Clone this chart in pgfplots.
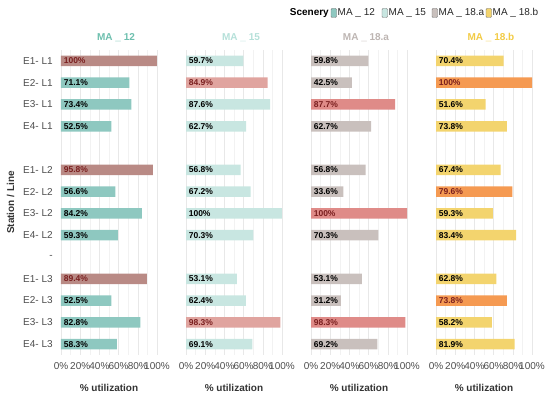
\documentclass[border=0pt]{standalone}
\usepackage{pgfplots}
\pgfplotsset{compat=1.18}
\usepackage{pgfplotstable}
\usepackage{fontspec}
\setmainfont{Liberation Sans}

\definecolor{nA}{HTML}{8EC8C0}
\definecolor{hA}{HTML}{B98A85}
\definecolor{nB}{HTML}{C8E6E1}
\definecolor{hB}{HTML}{E0A49F}
\definecolor{nC}{HTML}{C9C0BD}
\definecolor{hC}{HTML}{DF8B88}
\definecolor{nD}{HTML}{F3D46E}
\definecolor{hD}{HTML}{F59A52}
\definecolor{tA}{HTML}{6DBFAE}
\definecolor{tB}{HTML}{B5E0D9}
\definecolor{tC}{HTML}{BDB5B2}
\definecolor{tD}{HTML}{F2CB45}
\definecolor{hltext}{HTML}{7A1F1F}
\definecolor{axg}{HTML}{4D4D4D}

% rows: 0-3 L1, 4 blank, 5-8 L2, 9 "-", 10-13 L3
\pgfplotstableread{
row v
1 71.1
2 73.4
3 52.5
6 56.6
7 84.2
8 59.3
11 52.5
12 82.8
13 58.3
}\An
\pgfplotstableread{
row v
0 100
5 95.8
10 89.4
}\Ah
\pgfplotstableread{
row v
0 59.7
2 87.6
3 62.7
5 56.8
6 67.2
7 100
8 70.3
10 53.1
11 62.4
13 69.1
}\Bn
\pgfplotstableread{
row v
1 84.9
12 98.3
}\Bh
\pgfplotstableread{
row v
0 59.8
1 42.5
3 62.7
5 56.8
6 33.6
8 70.3
10 53.1
11 31.2
13 69.2
}\Cn
\pgfplotstableread{
row v
2 87.7
7 100
12 98.3
}\Ch
\pgfplotstableread{
row v
0 70.4
2 51.6
3 73.8
5 67.4
7 59.3
8 83.4
10 62.8
12 58.2
13 81.9
}\Dn
\pgfplotstableread{
row v
1 100
6 79.6
11 73.8
}\Dh

\pgfplotsset{
  panel/.style={
    scale only axis, width=105.6pt, height=305pt, anchor=south west,
    xmin=-5, xmax=105, ymin=-0.5, ymax=13.5, y dir=reverse,
    axis line style={draw=none}, major tick length=0pt, minor tick length=0pt,
    tick style={draw=none},
    xtick={0,20,40,60,80,100},
    xticklabels={0\%,20\%,40\%,60\%,80\%,100\%},
    minor xtick={10,30,50,70,90},
    xmajorgrids, xminorgrids,
    major grid style={color=black!9, line width=0.5pt},
    minor grid style={color=black!5, line width=0.4pt},
    tick label style={font=\fontsize{10}{12}\selectfont, text=axg},
    xticklabel style={yshift=-4pt},
    xlabel={\% utilization},
    xlabel style={font=\bfseries\fontsize{10}{12}\selectfont, text=black!80, yshift=-8pt},
    title style={font=\bfseries\fontsize{10}{12}\selectfont, yshift=-1pt, xshift=7pt},
    ytick=\empty,
  },
  bars/.style={xbar, bar shift=0pt, bar width=10.5pt, draw=none, fill=#1},
  labs/.style={draw=none, mark=none,
    nodes near coords={\pgfmathprintnumber[fixed,precision=1,assume math mode=true]{\pgfplotspointmeta}\%},
    point meta=\thisrow{v},
    nodes near coords style={anchor=west, font=\bfseries\fontsize{8.5}{10}\selectfont, text=#1, inner sep=2.6pt}},
}

\begin{document}
\begin{tikzpicture}
\useasboundingbox (0,0) rectangle (550pt,394pt);

\begin{axis}[panel, at={(56.2pt,39pt)}, title={MA \_ 12}, title style={text=tA},
  ytick={0,...,13},
  yticklabels={E1- L1,E2- L1,E3- L1,E4- L1,{},E1- L2,E2- L2,E3- L2,E4- L2,{-},E1- L3,E2- L3,E3- L3,E4- L3},
  ylabel={Station / Line}, ylabel style={font=\bfseries\fontsize{10}{12}\selectfont, text=black!80, yshift=2pt}]
\addplot[bars=nA] table[x=v, y=row] {\An};
\addplot[bars=hA] table[x=v, y=row] {\Ah};
\addplot[labs=black] table[x expr=0, y=row] {\An};
\addplot[labs=hltext] table[x expr=0, y=row] {\Ah};
\end{axis}

\begin{axis}[panel, at={(181.2pt,39pt)}, title={MA \_ 15}, title style={text=tB}]
\addplot[bars=nB] table[x=v, y=row] {\Bn};
\addplot[bars=hB] table[x=v, y=row] {\Bh};
\addplot[labs=black] table[x expr=0, y=row] {\Bn};
\addplot[labs=hltext] table[x expr=0, y=row] {\Bh};
\end{axis}

\begin{axis}[panel, at={(306.2pt,39pt)}, title={MA \_ 18.a}, title style={text=tC}]
\addplot[bars=nC] table[x=v, y=row] {\Cn};
\addplot[bars=hC] table[x=v, y=row] {\Ch};
\addplot[labs=black] table[x expr=0, y=row] {\Cn};
\addplot[labs=hltext] table[x expr=0, y=row] {\Ch};
\end{axis}

\begin{axis}[panel, at={(431.2pt,39pt)}, title={MA \_ 18.b}, title style={text=tD}]
\addplot[bars=nD] table[x=v, y=row] {\Dn};
\addplot[bars=hD] table[x=v, y=row] {\Dh};
\addplot[labs=black] table[x expr=0, y=row] {\Dn};
\addplot[labs=hltext] table[x expr=0, y=row] {\Dh};
\end{axis}

% legend
\node[anchor=east, font=\bfseries\fontsize{10}{12}\selectfont, inner sep=0pt] at (329pt,381pt) {Scenery};
\foreach \xx/\cc/\tt in {331/nA/{MA \_ 12}, 382/nB/{MA \_ 15}, 432/nC/{MA \_ 18.a}, 486/nD/{MA \_ 18.b}}{
  \draw[fill=\cc, draw=black!55, rounded corners=1pt, line width=0.4pt] (\xx pt,376.5pt) rectangle ++(5.5pt,9pt);
  \node[anchor=west, font=\fontsize{10}{12}\selectfont, text=black!85, inner sep=0pt] at (\xx pt+6.5pt,381pt) {\tt};
}
\end{tikzpicture}
\end{document}
